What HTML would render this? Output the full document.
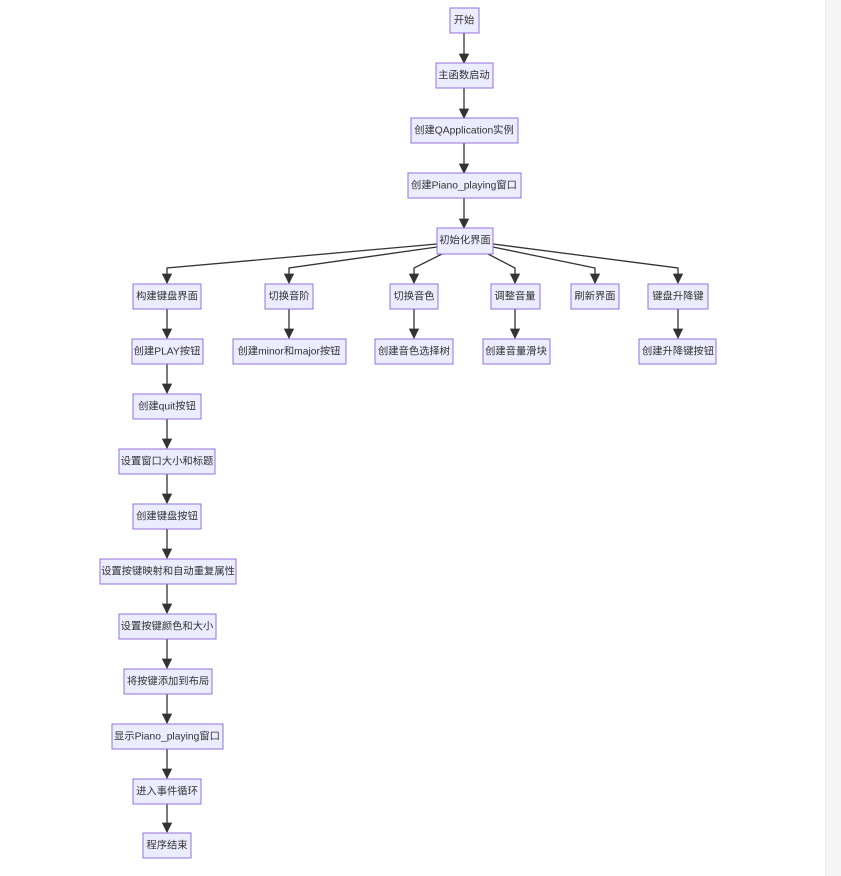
<!DOCTYPE html>
<html><head><meta charset="utf-8"><style>
body{margin:0;background:#fff;width:841px;height:876px;overflow:hidden;position:relative}
.sb{position:absolute;left:825px;top:0;width:16px;height:876px;background:#f5f5f5;border-left:1px solid #ececec}
svg text{font-family:"Liberation Sans","Noto Sans CJK SC",sans-serif;font-size:10.3px;fill:#333;text-anchor:middle;dominant-baseline:central}
rect{fill:#ECECFF;stroke:#9370DB;stroke-width:1}
.e{stroke:#333;stroke-width:1.3;fill:none}
</style></head><body>
<svg width="841" height="876" style="position:absolute;left:0;top:0">
<defs><marker id="a" viewBox="0 0 10 10" refX="9" refY="5" markerWidth="8" markerHeight="8" orient="auto"><path d="M0,0L10,5L0,10z" fill="#333"/></marker></defs>
<path class="e" marker-end="url(#a)" d="M464,33V63"/>
<path class="e" marker-end="url(#a)" d="M464,88V118"/>
<path class="e" marker-end="url(#a)" d="M464,143V173"/>
<path class="e" marker-end="url(#a)" d="M464,198V228"/>
<path class="e" marker-end="url(#a)" d="M437,244L167,268V283"/>
<path class="e" marker-end="url(#a)" d="M437,247L289,268V283"/>
<path class="e" marker-end="url(#a)" d="M442,254L414,268V283"/>
<path class="e" marker-end="url(#a)" d="M488,254L515,268V283"/>
<path class="e" marker-end="url(#a)" d="M493,247L595,268V283"/>
<path class="e" marker-end="url(#a)" d="M493,244L678,268V283"/>
<path class="e" marker-end="url(#a)" d="M289,309V338"/>
<path class="e" marker-end="url(#a)" d="M414,309V338"/>
<path class="e" marker-end="url(#a)" d="M515,309V338"/>
<path class="e" marker-end="url(#a)" d="M678,309V338"/>
<path class="e" marker-end="url(#a)" d="M167,309V338"/>
<path class="e" marker-end="url(#a)" d="M167,364V393"/>
<path class="e" marker-end="url(#a)" d="M167,419V448"/>
<path class="e" marker-end="url(#a)" d="M167,474V503"/>
<path class="e" marker-end="url(#a)" d="M167,529V558"/>
<path class="e" marker-end="url(#a)" d="M167,584V613"/>
<path class="e" marker-end="url(#a)" d="M167,639V668"/>
<path class="e" marker-end="url(#a)" d="M167,694V723"/>
<path class="e" marker-end="url(#a)" d="M167,749V778"/>
<path class="e" marker-end="url(#a)" d="M167,804V832"/>
<rect x="450" y="8" width="29" height="25"/><text x="464" y="21">开始</text>
<rect x="436" y="63" width="57" height="25"/><text x="464" y="76">主函数启动</text>
<rect x="411" y="118" width="107" height="25"/><text x="464" y="131">创建QApplication实例</text>
<rect x="408" y="173" width="113" height="25"/><text x="464" y="186">创建Piano_playing窗口</text>
<rect x="437" y="228" width="56" height="26"/><text x="465" y="241">初始化界面</text>
<rect x="133" y="284" width="68" height="25"/><text x="167" y="297">构建键盘界面</text>
<rect x="265" y="284" width="48" height="25"/><text x="289" y="297">切换音阶</text>
<rect x="390" y="284" width="48" height="25"/><text x="414" y="297">切换音色</text>
<rect x="491" y="284" width="49" height="25"/><text x="515" y="297">调整音量</text>
<rect x="571" y="284" width="48" height="25"/><text x="595" y="297">刷新界面</text>
<rect x="648" y="284" width="60" height="25"/><text x="678" y="297">键盘升降键</text>
<rect x="132" y="339" width="71" height="25"/><text x="167" y="352">创建PLAY按钮</text>
<rect x="233" y="339" width="113" height="25"/><text x="289" y="352">创建minor和major按钮</text>
<rect x="375" y="339" width="78" height="25"/><text x="414" y="352">创建音色选择树</text>
<rect x="483" y="339" width="67" height="25"/><text x="516" y="352">创建音量滑块</text>
<rect x="639" y="339" width="77" height="25"/><text x="678" y="352">创建升降键按钮</text>
<rect x="133" y="394" width="68" height="25"/><text x="167" y="407">创建quit按钮</text>
<rect x="119" y="449" width="96" height="25"/><text x="167" y="462">设置窗口大小和标题</text>
<rect x="133" y="504" width="68" height="25"/><text x="167" y="517">创建键盘按钮</text>
<rect x="100" y="559" width="136" height="25"/><text x="168" y="572">设置按键映射和自动重复属性</text>
<rect x="119" y="614" width="97" height="25"/><text x="167" y="627">设置按键颜色和大小</text>
<rect x="124" y="669" width="88" height="25"/><text x="168" y="682">将按键添加到布局</text>
<rect x="112" y="724" width="111" height="25"/><text x="167" y="737">显示Piano_playing窗口</text>
<rect x="133" y="779" width="68" height="25"/><text x="167" y="792">进入事件循环</text>
<rect x="143" y="833" width="48" height="25"/><text x="167" y="846">程序结束</text>
</svg>
<div class="sb"></div>
</body></html>
